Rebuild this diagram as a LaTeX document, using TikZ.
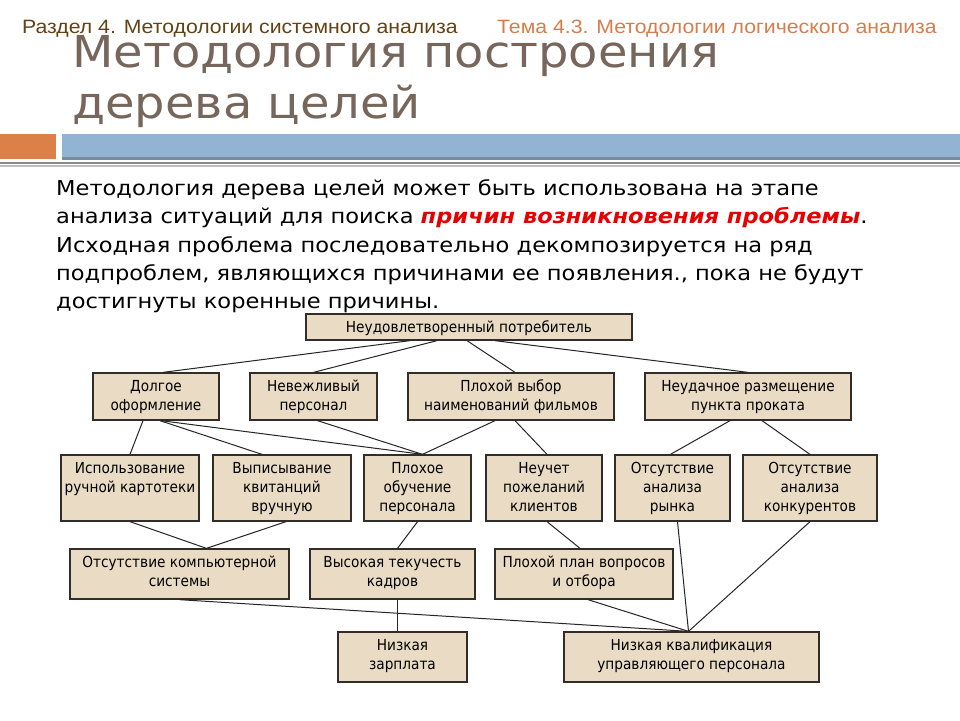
\documentclass[tikz,border=0pt]{standalone}
\usepackage{fontspec}
\setmainfont[FakeStretch=1.1]{DejaVu Sans}
\newfontfamily\titlefont[FakeStretch=1.09]{DejaVu Sans}
\newfontfamily\boxfont{DejaVu Sans Condensed}
\newfontfamily\hdrfont[FakeStretch=1.1]{Liberation Sans}
\definecolor{hdrleft}{RGB}{99,66,20}
\definecolor{hdrright}{RGB}{215,125,75}
\definecolor{titlecol}{RGB}{118,102,92}
\definecolor{barorange}{RGB}{221,128,71}
\definecolor{barblue}{RGB}{146,180,211}
\definecolor{bardark}{RGB}{120,140,160}
\definecolor{linegray}{RGB}{140,140,140}
\definecolor{linelight}{RGB}{190,190,190}
\definecolor{emred}{RGB}{230,0,0}
\definecolor{boxfill}{RGB}{234,220,196}
\definecolor{boxline}{RGB}{50,45,40}
\newcommand{\fst}{\rule{0pt}{12pt}}
\tikzset{
  cbox/.style={draw=boxline, fill=boxfill, line width=1.3pt, inner sep=0pt},
  ctext/.style={anchor=north, inner sep=0pt, align=center, font=\boxfont\fontsize{15.2}{19}\selectfont},
  conn/.style={draw=black!85, line width=1pt},
  hdr/.style={anchor=base west, inner sep=0pt, font=\hdrfont\fontsize{19.3}{22}\selectfont}
}
\begin{document}
\begin{tikzpicture}[x=1pt,y=-1pt]
\useasboundingbox (0,0) rectangle (960,720);
\fill[white] (0,0) rectangle (960,720);
% header
\node[hdr, text=hdrleft] (hl) at (22,33) {Раздел 4. Методологии системного анализа};
\node[hdr, text=hdrright] (hr) at (497,33) {Тема 4.3. Методологии логического анализа};
% title
\node[anchor=north west, inner sep=0pt, align=left, text=titlecol, font=\titlefont\fontsize{44}{51}\selectfont] (title) at (72,32) {\rule{0pt}{35pt}Методология построения\\дерева целей};
% bars
\fill[barorange] (0,134) rectangle (56,159);
\fill[barblue] (62,134) rectangle (960,157);
\fill[bardark] (62,157) rectangle (960,160);
\fill[linegray] (0,162) rectangle (960,164);
\fill[linelight] (0,165) rectangle (960,166.5);
% paragraph
\node[anchor=north west, inner sep=0pt, align=left, font=\fontsize{20.5}{28.4}\selectfont] (para) at (56,178) {\rule{0pt}{17pt}Методология дерева целей может быть использована на этапе\\
анализа ситуаций для поиска {\color{emred}\bfseries\itshape причин возникновения проблемы}.\\
Исходная проблема последовательно декомпозируется на ряд\\
подпроблем, являющихся причинами ее появления., пока не будут\\
достигнуты коренные причины.};
% boxes
\node[cbox, minimum width=326pt, minimum height=26pt] (top) at (469,327) {};
\node[ctext] (topt) at (469,320) {\fst Неудовлетворенный потребитель};
\node[cbox, minimum width=126pt, minimum height=47pt] (d1) at (156,396.5) {};
\node[ctext] (d1t) at (156,379) {\fst Долгое\\оформление};
\node[cbox, minimum width=127pt, minimum height=47pt] (d2) at (313.5,396.5) {};
\node[ctext] (d2t) at (313.5,379) {\fst Невежливый\\персонал};
\node[cbox, minimum width=206pt, minimum height=47pt] (d3) at (511,396.5) {};
\node[ctext] (d3t) at (511,379) {\fst Плохой выбор\\наименований фильмов};
\node[cbox, minimum width=206pt, minimum height=47pt] (d4) at (748,396.5) {};
\node[ctext] (d4t) at (748,379) {\fst Неудачное размещение\\пункта проката};
\node[cbox, minimum width=138pt, minimum height=66pt] (e1) at (130,488) {};
\node[ctext] (e1t) at (130,461) {\fst Использование\\ручной картотеки};
\node[cbox, minimum width=138pt, minimum height=66pt] (e2) at (282,488) {};
\node[ctext] (e2t) at (282,461) {\fst Выписывание\\квитанций\\вручную};
\node[cbox, minimum width=107pt, minimum height=66pt] (e3) at (417.5,488) {};
\node[ctext] (e3t) at (417.5,461) {\fst Плохое\\обучение\\персонала};
\node[cbox, minimum width=116pt, minimum height=66pt] (e4) at (544,488) {};
\node[ctext] (e4t) at (544,461) {\fst Неучет\\пожеланий\\клиентов};
\node[cbox, minimum width=115pt, minimum height=66pt] (e5) at (672.5,488) {};
\node[ctext] (e5t) at (672.5,461) {\fst Отсутствие\\анализа\\рынка};
\node[cbox, minimum width=134pt, minimum height=66pt] (e6) at (810,488) {};
\node[ctext] (e6t) at (810,461) {\fst Отсутствие\\анализа\\конкурентов};
\node[cbox, minimum width=219pt, minimum height=50pt] (f1) at (179.5,574) {};
\node[ctext] (f1t) at (179.5,555) {\fst Отсутствие компьютерной\\системы};
\node[cbox, minimum width=165pt, minimum height=50pt] (f2) at (392.5,574) {};
\node[ctext] (f2t) at (392.5,555) {\fst Высокая текучесть\\кадров};
\node[cbox, minimum width=178pt, minimum height=50pt] (f3) at (584,574) {};
\node[ctext] (f3t) at (584,555) {\fst Плохой план вопросов\\и отбора};
\node[cbox, minimum width=129pt, minimum height=50pt] (g1) at (402.5,657) {};
\node[ctext] (g1t) at (402.5,638) {\fst Низкая\\зарплата};
\node[cbox, minimum width=255pt, minimum height=50pt] (g2) at (691.5,657) {};
\node[ctext] (g2t) at (691.5,638) {\fst Низкая квалификация\\управляющего персонала};
% connectors
\draw[conn] ([xshift=-59pt]top.south) -- ([xshift=7pt]d1.north);
\draw[conn] ([xshift=-32pt]top.south) -- (d2.north);
\draw[conn] ([xshift=-2pt]top.south) -- ([xshift=4pt]d3.north);
\draw[conn] ([xshift=26pt]top.south) -- (d4.north);
\draw[conn] ([xshift=-13pt]d1.south) -- (e1.north);
\draw[conn] ([xshift=4pt]d1.south) -- ([xshift=-20pt]e2.north);
\draw[conn] ([xshift=5pt]d1.south) -- ([xshift=5pt]e3.north);
\draw[conn] ([xshift=4pt]d2.south) -- ([xshift=5pt]e3.north);
\draw[conn] ([xshift=-16pt]d3.south) -- ([xshift=5pt]e3.north);
\draw[conn] ([xshift=4pt]d3.south) -- ([xshift=3pt]e4.north);
\draw[conn] ([xshift=-18pt]d4.south) -- ([xshift=-2pt]e5.north);
\draw[conn] ([xshift=14pt]d4.south) -- (e6.north);
\draw[conn] (e1.south) -- ([xshift=27pt]f1.north);
\draw[conn] ([xshift=4pt]e2.south) -- ([xshift=27pt]f1.north);
\draw[conn] (e3.south) -- ([xshift=5pt]f2.north);
\draw[conn] ([xshift=5pt]f2.south) -- ([xshift=-5pt]g1.north);
\draw[conn] (f1.south) -- ([xshift=-3pt]g2.north);
\draw[conn] ([xshift=3pt]e4.south) -- ([xshift=-4pt]f3.north);
\draw[conn] ([xshift=4pt]f3.south) -- ([xshift=-3pt]g2.north);
\draw[conn] ([xshift=5pt]e5.south) -- ([xshift=-3pt]g2.north);
\draw[conn] (e6.south) -- ([xshift=-3pt]g2.north);
\end{tikzpicture}
\end{document}
